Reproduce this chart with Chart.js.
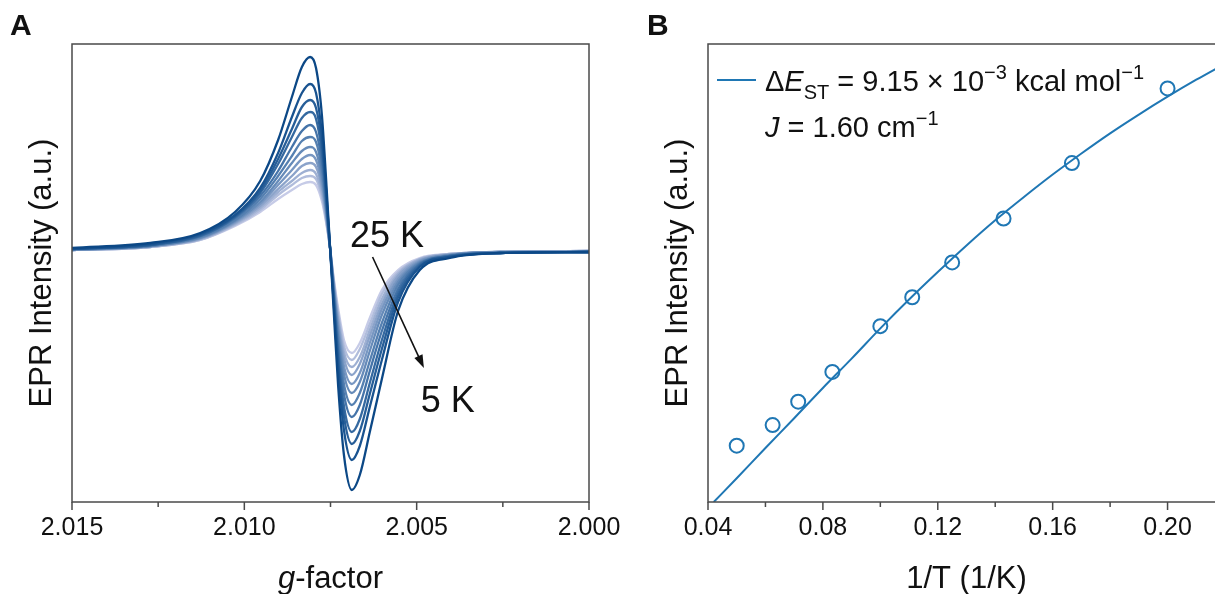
<!DOCTYPE html>
<html>
<head>
<meta charset="utf-8">
<script src="https://cdn.jsdelivr.net/npm/chart.js@4.4.0/dist/chart.umd.min.js"></script>
<style>
  html, body { margin: 0; padding: 0; background: #fff; overflow: hidden; width: 1215px; height: 594px; }
  .panel { position: absolute; top: 0; }
  #wrapA { left: 0; }
  #wrapB { left: 620px; }
</style>
</head>
<body>
<div id="wrapA" class="panel"><canvas id="chartA" width="620" height="594"></canvas></div>
<div id="wrapB" class="panel"><canvas id="chartB" width="620" height="594"></canvas></div>
<script>
const FONT = '"Liberation Sans", Arial, Helvetica, sans-serif';
const INK = '#111111';
const AXIS_COLOR = '#4a4a4a';

// ---- Panel A: temperature-dependent EPR spectra ----
// g-factor positions of the sampled points (high g on the left)
const gFactor = [2.0150, 2.01273, 2.01128, 2.01027, 2.00954, 2.00902, 2.00862, 2.00833, 2.00809,
                 2.00792, 2.00775, 2.00763, 2.00751, 2.00740, 2.00728, 2.00711, 2.00688, 2.00665,
                 2.00636, 2.00601, 2.00554, 2.00491, 2.00404, 2.00259, 2.0000];

const spec05K = [0.01, 0.06, 0.16, 0.37, 0.68, 1.09, 1.52, 1.82, 1.92, 1.81, 1.34, 0.71, 0, -0.66, -1.36, -2.06, -2.41, -2.26, -1.83, -1.30, -0.62, -0.21, -0.09, -0.04, -0.03];
const spec06K = [0.00, 0.05, 0.15, 0.34, 0.61, 0.96, 1.32, 1.56, 1.65, 1.56, 1.15, 0.61, 0, -0.58, -1.19, -1.81, -2.11, -1.97, -1.58, -1.11, -0.53, -0.18, -0.08, -0.04, -0.03];
const spec07K = [0.00, 0.04, 0.14, 0.33, 0.58, 0.90, 1.20, 1.42, 1.49, 1.41, 1.05, 0.56, 0, -0.54, -1.10, -1.67, -1.95, -1.82, -1.45, -1.00, -0.48, -0.17, -0.08, -0.04, -0.03];
const spec08K = [0.00, 0.04, 0.13, 0.32, 0.56, 0.85, 1.12, 1.31, 1.37, 1.30, 0.96, 0.52, 0, -0.51, -1.03, -1.57, -1.83, -1.70, -1.34, -0.91, -0.44, -0.16, -0.07, -0.04, -0.03];
const spec09K = [0.00, 0.04, 0.13, 0.31, 0.53, 0.78, 1.02, 1.18, 1.24, 1.17, 0.87, 0.47, 0, -0.48, -0.95, -1.45, -1.68, -1.56, -1.22, -0.82, -0.40, -0.15, -0.07, -0.04, -0.03];
const spec10K = [0.00, 0.03, 0.12, 0.29, 0.50, 0.73, 0.93, 1.08, 1.12, 1.07, 0.79, 0.43, 0, -0.44, -0.88, -1.35, -1.56, -1.44, -1.12, -0.74, -0.36, -0.14, -0.07, -0.04, -0.03];
const spec12K = [-0.01, 0.03, 0.11, 0.28, 0.47, 0.68, 0.86, 0.98, 1.02, 0.97, 0.72, 0.40, 0, -0.41, -0.82, -1.25, -1.44, -1.33, -1.02, -0.66, -0.33, -0.13, -0.06, -0.03, -0.03];
const spec14K = [-0.01, 0.03, 0.11, 0.27, 0.45, 0.64, 0.79, 0.90, 0.94, 0.89, 0.66, 0.37, 0, -0.39, -0.76, -1.17, -1.35, -1.24, -0.94, -0.60, -0.30, -0.12, -0.06, -0.03, -0.03];
const spec16K = [-0.01, 0.03, 0.10, 0.26, 0.43, 0.60, 0.73, 0.83, 0.86, 0.82, 0.61, 0.34, 0, -0.37, -0.71, -1.09, -1.26, -1.15, -0.87, -0.55, -0.27, -0.11, -0.06, -0.03, -0.02];
const spec18K = [-0.01, 0.02, 0.10, 0.25, 0.41, 0.57, 0.68, 0.76, 0.79, 0.75, 0.56, 0.31, 0, -0.35, -0.67, -1.03, -1.18, -1.08, -0.81, -0.50, -0.25, -0.10, -0.05, -0.03, -0.02];
const spec20K = [-0.01, 0.02, 0.09, 0.24, 0.39, 0.54, 0.64, 0.71, 0.73, 0.70, 0.52, 0.29, 0, -0.33, -0.63, -0.97, -1.11, -1.00, -0.75, -0.45, -0.23, -0.10, -0.05, -0.03, -0.02];
const spec25K = [-0.01, 0.02, 0.09, 0.23, 0.37, 0.50, 0.59, 0.65, 0.67, 0.64, 0.48, 0.27, 0, -0.31, -0.59, -0.91, -1.04, -0.94, -0.69, -0.41, -0.21, -0.09, -0.05, -0.03, -0.02];

// coldest trace first so it is painted on top
const spectra = [spec05K, spec06K, spec07K, spec08K, spec09K, spec10K, spec12K, spec14K, spec16K, spec18K, spec20K, spec25K];
const spectrumLabels = ['5 K', '6 K', '7 K', '8 K', '9 K', '10 K', '12 K', '14 K', '16 K', '18 K', '20 K', '25 K'];
const spectrumColors = ['#0c4886', '#195390', '#275e98', '#3569a0', '#4574a9', '#5580b1',
                        '#668bb9', '#7897c2', '#8ba3ca', '#9eb0d3', '#b1bddc', '#c6cbe7'];

const gTicks = [2.015, 2.0125, 2.010, 2.0075, 2.005, 2.0025, 2.000];
const gTickLabels = ['2.015', '', '2.010', '', '2.005', '', '2.000'];

// ---- Panel B: integrated intensity vs 1/T with singlet-triplet fit ----
const invT = [0.05, 0.0625, 0.0714, 0.0833, 0.10, 0.1111, 0.125, 0.1429, 0.1667, 0.20];
const eprIntensity = [12.3, 16.8, 21.9, 28.4, 38.4, 44.7, 52.3, 61.9, 74.0, 90.3];
const fitInvT = [0.042, 0.05, 0.06, 0.07, 0.08, 0.09, 0.10, 0.11, 0.12, 0.13, 0.14, 0.15, 0.16, 0.17, 0.18, 0.19, 0.20, 0.21, 0.22];
const fitIntensity = [0, 5.2, 11.8, 18.3, 24.9, 31.3, 37.9, 44.2, 50.2, 56.0, 61.5, 66.6, 71.5, 76.1, 80.5, 84.6, 88.5, 92.2, 95.7];
const invTTicks = [0.04, 0.06, 0.08, 0.10, 0.12, 0.14, 0.16, 0.18, 0.20, 0.22];
const invTTickLabels = ['0.04', '', '0.08', '', '0.12', '', '0.16', '', '0.20', ''];
const FIT_BLUE = '#1f77b4';

// ---- text helpers ----
function fontOf(r) {
  return (r.italic ? 'italic ' : '') + (r.bold ? 'bold ' : '') + (r.size || 29) + 'px ' + FONT;
}
function drawRuns(ctx, runs, x, y, align) {
  let total = 0;
  runs.forEach(r => { ctx.font = fontOf(r); r.w = ctx.measureText(r.t).width; total += r.w; });
  let cx = align === 'center' ? x - total / 2 : x;
  ctx.textAlign = 'left';
  ctx.textBaseline = 'alphabetic';
  runs.forEach(r => { ctx.font = fontOf(r); ctx.fillText(r.t, cx, y + (r.dy || 0)); cx += r.w; });
}
function drawYTitle(ctx, text, baselineX, centerY) {
  ctx.save();
  ctx.translate(baselineX, centerY);
  ctx.rotate(-Math.PI / 2);
  ctx.fillStyle = INK;
  ctx.font = '31px ' + FONT;
  ctx.textAlign = 'center';
  ctx.textBaseline = 'alphabetic';
  ctx.fillText(text, 0, 0);
  ctx.restore();
}
function drawFrameAndTicks(chart, ticks, labels) {
  const { ctx, chartArea: a } = chart;
  const xs = chart.scales.x;
  ctx.save();
  ctx.strokeStyle = AXIS_COLOR;
  ctx.lineWidth = 1.5;
  ctx.strokeRect(a.left, a.top, a.right - a.left, a.bottom - a.top);
  ctx.beginPath();
  ticks.forEach((v, i) => {
    const px = xs.getPixelForValue(v);
    const len = labels[i] ? 8 : 5;
    ctx.moveTo(px, a.bottom);
    ctx.lineTo(px, a.bottom + len);
  });
  ctx.stroke();
  ctx.restore();
}

// annotation anchors in data coordinates
const arrowFrom = { g: 2.00628, v: -0.08 };
const arrowTo = { g: 2.00479, v: -1.19 };
const labelHigh = { g: 2.00586, v: 0.02, text: '25 K' };
const labelLow = { g: 2.00410, v: -1.63, text: '5 K' };

const panelAOverlay = {
  id: 'panelAOverlay',
  afterDraw(chart) {
    const { ctx, chartArea: a } = chart;
    const xs = chart.scales.x, ys = chart.scales.y;
    drawFrameAndTicks(chart, gTicks, gTickLabels);
    ctx.save();
    ctx.fillStyle = INK;
    ctx.font = 'bold 30px ' + FONT;
    ctx.textAlign = 'left';
    ctx.textBaseline = 'alphabetic';
    ctx.fillText('A', 10, 35);
    // x title with italic g
    drawRuns(ctx, [{ t: 'g', italic: true, size: 31 }, { t: '-factor', size: 31 }], (a.left + a.right) / 2, 588, 'center');
    drawYTitle(ctx, 'EPR Intensity (a.u.)', a.left - 21, (a.top + a.bottom) / 2);
    // temperature labels and arrow
    ctx.fillStyle = INK;
    ctx.font = '36px ' + FONT;
    ctx.textAlign = 'center';
    ctx.textBaseline = 'alphabetic';
    ctx.fillText(labelHigh.text, xs.getPixelForValue(labelHigh.g), ys.getPixelForValue(labelHigh.v));
    ctx.fillText(labelLow.text, xs.getPixelForValue(labelLow.g), ys.getPixelForValue(labelLow.v));
    const x1 = xs.getPixelForValue(arrowFrom.g), y1 = ys.getPixelForValue(arrowFrom.v);
    const x2 = xs.getPixelForValue(arrowTo.g), y2 = ys.getPixelForValue(arrowTo.v);
    const ang = Math.atan2(y2 - y1, x2 - x1);
    const head = 13, half = 4.5;
    ctx.strokeStyle = INK;
    ctx.lineWidth = 1.6;
    ctx.beginPath();
    ctx.moveTo(x1, y1);
    ctx.lineTo(x2 - Math.cos(ang) * head * 0.8, y2 - Math.sin(ang) * head * 0.8);
    ctx.stroke();
    ctx.beginPath();
    ctx.moveTo(x2, y2);
    ctx.lineTo(x2 - Math.cos(ang) * head - Math.sin(ang) * half, y2 - Math.sin(ang) * head + Math.cos(ang) * half);
    ctx.lineTo(x2 - Math.cos(ang) * head + Math.sin(ang) * half, y2 - Math.sin(ang) * head - Math.cos(ang) * half);
    ctx.closePath();
    ctx.fill();
    ctx.restore();
  }
};

const panelBOverlay = {
  id: 'panelBOverlay',
  afterDraw(chart) {
    const { ctx, chartArea: a } = chart;
    drawFrameAndTicks(chart, invTTicks, invTTickLabels);
    ctx.save();
    ctx.fillStyle = INK;
    ctx.font = 'bold 30px ' + FONT;
    ctx.textAlign = 'left';
    ctx.textBaseline = 'alphabetic';
    ctx.fillText('B', 27, 35);
    drawRuns(ctx, [{ t: '1/T (1/K)', size: 31 }], (a.left + a.right) / 2, 588, 'center');
    drawYTitle(ctx, 'EPR Intensity (a.u.)', a.left - 21, (a.top + a.bottom) / 2);
    // legend entry for the fit
    ctx.strokeStyle = FIT_BLUE;
    ctx.lineWidth = 2;
    ctx.beginPath();
    ctx.moveTo(a.left + 9, 80);
    ctx.lineTo(a.left + 48, 80);
    ctx.stroke();
    ctx.fillStyle = INK;
    const lx = a.left + 57;
    drawRuns(ctx, [
      { t: '\u0394' }, { t: 'E', italic: true }, { t: 'ST', size: 20, dy: 8 },
      { t: ' = 9.15 \u00d7 10' }, { t: '\u22123', size: 20, dy: -12 },
      { t: ' kcal mol' }, { t: '\u22121', size: 20, dy: -12 }
    ], lx, 91, 'left');
    drawRuns(ctx, [
      { t: 'J', italic: true }, { t: ' = 1.60 cm' }, { t: '\u22121', size: 20, dy: -12 }
    ], lx, 137, 'left');
    ctx.restore();
  }
};

function xScale(min, max, ticks, labels, reverse) {
  return {
    type: 'linear', min, max, reverse,
    afterBuildTicks: s => { s.ticks = ticks.map(v => ({ value: v })); },
    // fixed axis height, and no extra room reserved for the end labels
    afterFit: s => { s.height = 92; s.paddingLeft = 0; s.paddingRight = 0; },
    grid: { display: false, drawTicks: false },
    border: { display: false },
    ticks: {
      autoSkip: false, maxRotation: 0, padding: 11, color: INK,
      font: { family: FONT, size: 25 },
      callback: (v) => {
        const i = ticks.findIndex(t => Math.abs(t - v) < 1e-9);
        return i >= 0 ? labels[i] : '';
      }
    }
  };
}
function yScale(min, max) {
  return {
    type: 'linear', min, max,
    afterFit: s => { s.width = 0; s.paddingTop = 0; s.paddingBottom = 0; },
    grid: { display: false, drawTicks: false },
    border: { display: false },
    ticks: { display: false }
  };
}

Chart.defaults.font.family = FONT;

new Chart(document.getElementById('chartA'), {
  type: 'line',
  data: {
    datasets: spectra.map((vals, i) => ({
      label: spectrumLabels[i],
      data: gFactor.map((g, j) => ({ x: g, y: vals[j] })),
      borderColor: spectrumColors[i],
      borderWidth: 2.3,
      pointRadius: 0,
      fill: false,
      cubicInterpolationMode: 'monotone'
    }))
  },
  options: {
    responsive: false,
    animation: false,
    layout: { padding: { left: 72, top: 44, right: 31, bottom: 0 } },
    plugins: { legend: { display: false }, tooltip: { enabled: false } },
    scales: {
      x: xScale(2.000, 2.015, gTicks, gTickLabels, true),
      y: yScale(-2.53, 2.05)
    }
  },
  plugins: [panelAOverlay]
});

new Chart(document.getElementById('chartB'), {
  type: 'line',
  data: {
    datasets: [
      {
        label: 'fit',
        data: fitInvT.map((x, i) => ({ x, y: fitIntensity[i] })),
        borderColor: FIT_BLUE,
        borderWidth: 2,
        pointRadius: 0,
        fill: false,
        cubicInterpolationMode: 'monotone'
      },
      {
        type: 'scatter',
        label: 'data',
        data: invT.map((x, i) => ({ x, y: eprIntensity[i] })),
        showLine: false,
        pointStyle: 'circle',
        pointRadius: 7,
        borderWidth: 2,
        borderColor: FIT_BLUE,
        backgroundColor: 'rgba(0,0,0,0)'
      }
    ]
  },
  options: {
    responsive: false,
    animation: false,
    layout: { padding: { left: 88, top: 44, right: 15, bottom: 0 } },
    plugins: { legend: { display: false }, tooltip: { enabled: false } },
    scales: {
      x: xScale(0.04, 0.22, invTTicks, invTTickLabels, false),
      y: yScale(0, 100)
    }
  },
  plugins: [panelBOverlay]
});
</script>
</body>
</html>
